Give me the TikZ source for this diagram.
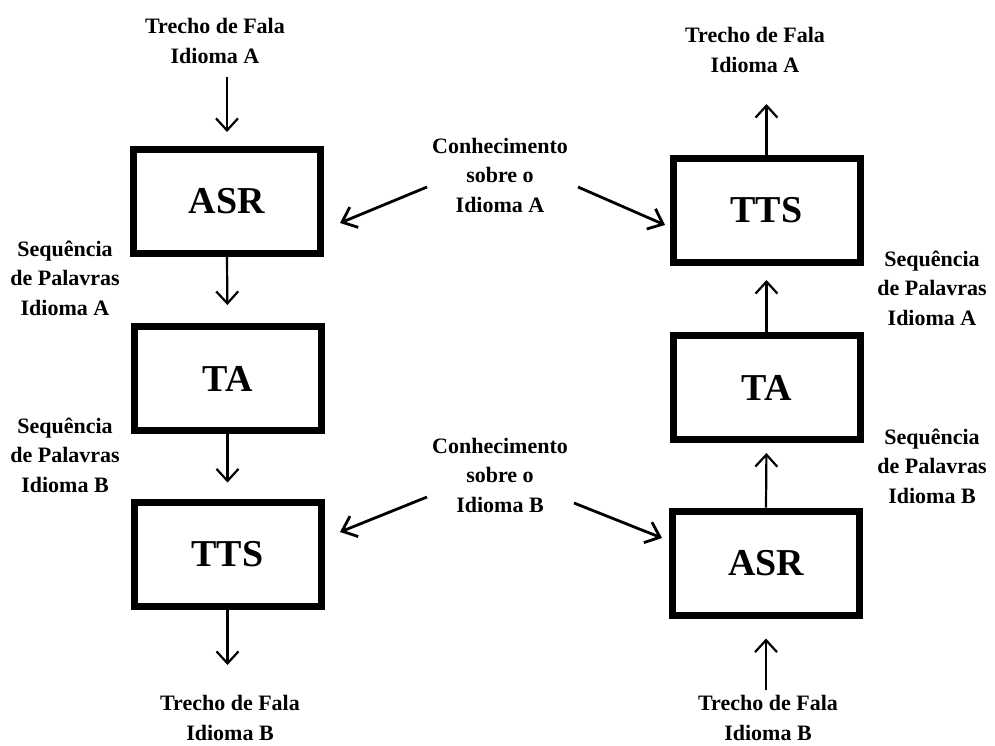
\documentclass[tikz,border=0pt]{standalone}
\usepackage{fontspec}
\setmainfont{Liberation Serif}
\usetikzlibrary{arrows.meta}
\begin{document}
\begin{tikzpicture}[x=1pt,y=-1pt,
  blk/.style={draw, line width=7pt, minimum width=187pt, minimum height=104pt, inner sep=0pt,
    font=\bfseries\fontsize{38}{38}\selectfont},
  lbl/.style={align=center, inner sep=0pt, anchor=base, font=\bfseries\fontsize{22}{29.5}\selectfont},
  arr/.style={line width=2.2pt, -{Straight Barb[length=12pt,width=22pt,line width=2.2pt]}},
  darr/.style={line width=2.8pt, -{Straight Barb[length=13pt,width=22pt,line width=2.8pt]}},
  ]
\useasboundingbox (0,0) rectangle (995,745);
% boxes
\node[blk] (lasr) at (227,201.5) {ASR};
\node[blk] (lta)  at (227.5,378.5) {TA};
\node[blk] (ltts) at (227.5,554) {TTS};
\node[blk] (rtts) at (766.5,210.5) {TTS};
\node[blk] (rta)  at (766.5,387.5) {TA};
\node[blk] (rasr) at (766,563) {ASR};
% labels (anchored at the baseline of their last line)
\node[lbl] (tlA) at (215,63) {Trecho de Fala\\Idioma A};
\node[lbl] (trA) at (755,72) {Trecho de Fala\\Idioma A};
\node[lbl] (tlB) at (230,740) {Trecho de Fala\\Idioma B};
\node[lbl] (trB) at (768,740) {Trecho de Fala\\Idioma B};
\node[lbl] (slA) at (65,315) {Sequência\\de Palavras\\Idioma A};
\node[lbl] (slB) at (65,492) {Sequência\\de Palavras\\Idioma B};
\node[lbl] (srA) at (932,325) {Sequência\\de Palavras\\Idioma A};
\node[lbl] (srB) at (932,503) {Sequência\\de Palavras\\Idioma B};
\node[lbl] (kA) at (500,212) {Conhecimento\\sobre o\\Idioma A};
\node[lbl] (kB) at (500,512) {Conhecimento\\sobre o\\Idioma B};
% free ends
\coordinate (inL) at (227,77);
\coordinate (outL) at (227.5,665);
\coordinate (outR) at (766.5,104);
\coordinate (inR) at (766,690);
\coordinate (kAl) at (427,187);
\coordinate (kAlt) at (340,223);
\coordinate (kAr) at (578,187);
\coordinate (kArt) at (665,225);
\coordinate (kBl) at (427,497);
\coordinate (kBlt) at (340,532);
\coordinate (kBr) at (574,503);
\coordinate (kBrt) at (662,538);
% vertical arrows
\draw[arr, shorten >=14pt] (inL) -- (lasr.north);
\draw[arr, shorten >=18pt] (lasr.south) -- (lta.north);
\draw[arr, shorten >=16pt] (lta.south) -- (ltts.north);
\draw[arr] (ltts.south) -- (outL);
\draw[arr] (rtts.north) -- (outR);
\draw[arr, shorten >=14pt] (rta.north) -- (rtts.south);
\draw[arr, shorten >=10pt] (rasr.north) -- (rta.south);
\draw[arr, shorten >=20pt] (inR) -- (rasr.south);
% knowledge arrows
\draw[darr] (kAl) -- (kAlt);
\draw[darr] (kAr) -- (kArt);
\draw[darr] (kBl) -- (kBlt);
\draw[darr] (kBr) -- (kBrt);
\end{tikzpicture}
\end{document}
